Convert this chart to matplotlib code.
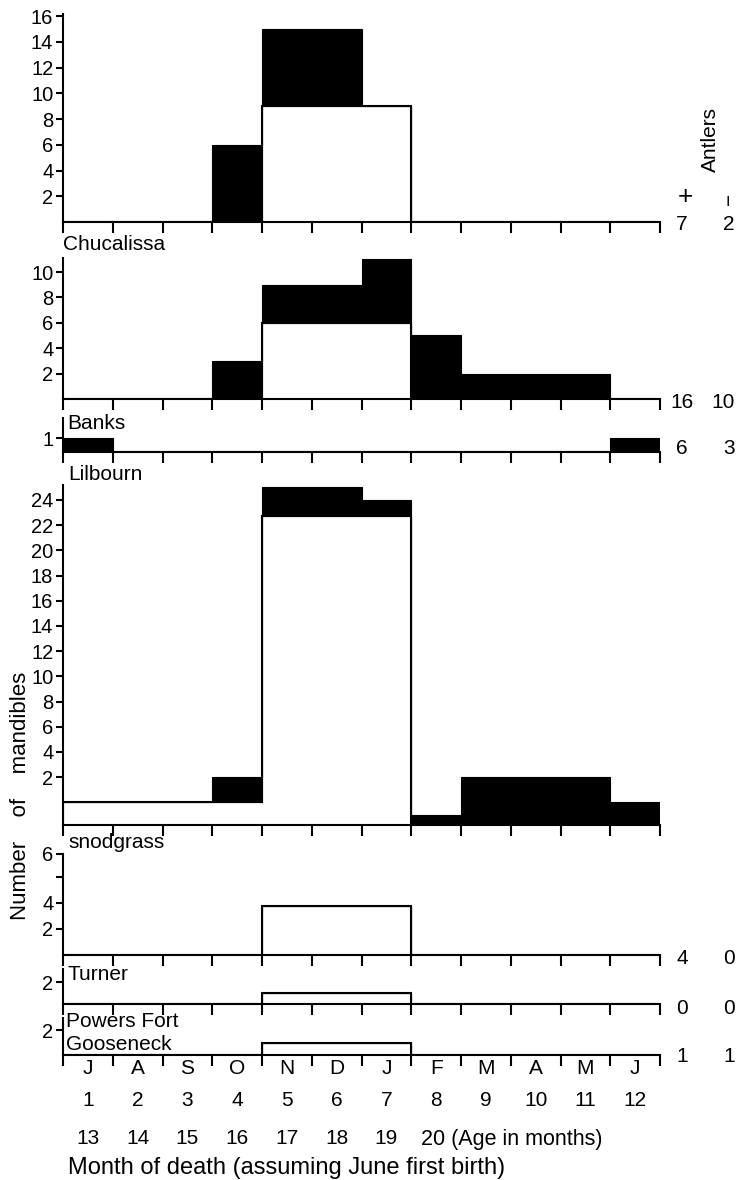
import numpy as np
import matplotlib
matplotlib.use("Agg")
import matplotlib.pyplot as plt

plt.rcParams['font.family'] = ['Liberation Sans', 'DejaVu Sans']

# ---------------- data (bar tops, in each panel's axis units) ----------------
month_letters = ["J", "A", "S", "O", "N", "D", "J", "F", "M", "A", "M", "J"]
month_numbers = ["1", "2", "3", "4", "5", "6", "7", "8", "9", "10", "11", "12"]
age_labels = ["13", "14", "15", "16", "17", "18", "19"]

# open (white) bar tops and solid (black) bar tops, cumulative
top_open = [0, 0, 0, 0, 9, 9, 9, 0, 0, 0, 0, 0]
top_solid = [0, 0, 0, 6, 15, 15, 9, 0, 0, 0, 0, 0]

chuc_open = [0, 0, 0, 0, 6, 6, 6, 0, 0, 0, 0, 0]
chuc_solid = [0, 0, 0, 3, 9, 9, 11, 5, 2, 2, 2, 0]

banks_open = [0, 0, 0, 0, 0, 0, 0, 0, 0, 0, 0, 0]
banks_solid = [1, 0, 0, 0, 0, 0, 0, 0, 0, 0, 0, 1]

lil_floor = -1.8
lil_open = [0, 0, 0, 0, 22.7, 22.7, 22.7, -1.8, -1.8, -1.8, -1.8, -1.8]
lil_solid = [0, 0, 0, 2, 25, 25, 24, -1, 2, 2, 2, 0]

snod_open = [0, 0, 0, 0, 3.8, 3.8, 3.8, 0, 0, 0, 0, 0]
snod_solid = snod_open

turner_open = [0, 0, 0, 0, 1, 1, 1, 0, 0, 0, 0, 0]
turner_solid = turner_open

powers_open = [0, 0, 0, 0, 1, 1, 1, 0, 0, 0, 0, 0]
powers_solid = powers_open

# antler counts (+, -) per panel
antler_plus = ["7", "16", "6", "4", "0", "1"]
antler_minus = ["2", "10", "3", "0", "0", "1"]

site_names = ["Chucalissa", "Banks", "Lilbourn", "snodgrass", "Turner", "Powers Fort\nGooseneck"]

# ---------------- layout ----------------
W, H = 739, 1180
fig = plt.figure(figsize=(W / 100, H / 100), dpi=100)
X0, X1 = 63, 660
FS = 15
FT = 14.5
LW = 1.5
edges = np.arange(13)


def fx(px):
    return px / W


def fy(py):
    return 1 - py / H


def make_ax(baseline_px, ppu, ymin, ymax, yticks, ylabels):
    hpx = (ymax - ymin) * ppu
    ax = fig.add_axes([fx(X0), fy(baseline_px), (X1 - X0) / W, hpx / H])
    ax.set_xlim(0, 12)
    ax.set_ylim(ymin, ymax)
    for s in ("top", "right"):
        ax.spines[s].set_visible(False)
    for s in ("left", "bottom"):
        ax.spines[s].set_linewidth(LW)
    ax.set_xticks(edges)
    ax.set_xticklabels([])
    ax.tick_params(axis="x", length=8, width=LW, direction="out")
    ax.set_yticks(yticks)
    ax.set_yticklabels(ylabels, fontsize=FT)
    ax.tick_params(axis="y", length=5, width=LW, direction="out", pad=2)
    ax.patch.set_alpha(0)
    return ax


def draw(ax, open_top, solid_top, floor):
    ax.stairs(open_top, edges, baseline=floor, fill=True,
              facecolor="white", edgecolor="black", linewidth=LW, zorder=2)
    ax.stairs(solid_top, edges, baseline=np.array(open_top, float), fill=True,
              facecolor="black", edgecolor="black", linewidth=0.8, zorder=3)


panels = [
    # baseline_px, px per unit, ymin, ymax, yticks, ylabels, open, solid
    (222, 12.86, 0, 16.2, list(range(2, 17, 2)), [str(v) for v in range(2, 17, 2)], top_open, top_solid),
    (399, 12.7, 0, 11.1, [2, 4, 6, 8, 10], ["2", "4", "6", "8", "10"], chuc_open, chuc_solid),
    (452, 14, 0, 2.4, [1], ["1"], banks_open, banks_solid),
    (825, 12.6, lil_floor, 25.2, list(range(2, 25, 2)), [str(v) for v in range(2, 25, 2)], lil_open, lil_solid),
    (955, 13, 0, 7.8, [2, 4, 6, 7.8], ["2", "4", "", "6"], snod_open, snod_solid),
    (1004, 11, 0, 3.2, [2], ["2"], turner_open, turner_solid),
    (1055, 12.5, 0, 3.0, [2], ["2"], powers_open, powers_solid),
]

axes = []
for bpx, ppu, ymin, ymax, yt, yl, op, so in panels:
    ax = make_ax(bpx, ppu, ymin, ymax, yt, yl)
    draw(ax, op, so, ymin)
    axes.append(ax)

# site labels
label_pos = [(63, 245), (67, 423), (68, 475), (68, 843), (68, 975), (66, 1033)]
for name, (px, py) in zip(site_names, label_pos):
    fig.text(fx(px), fy(py), name, fontsize=FS, ha="left", va="center",
             linespacing=1.3)

# antler columns
count_rows = [224, 403, 448, 958, 1008, 1056]
for p, m, py in zip(antler_plus, antler_minus, count_rows):
    fig.text(fx(682), fy(py), p, fontsize=FS, ha="center", va="center")
    fig.text(fx(735), fy(py), m, fontsize=FS, ha="right", va="center")
fig.text(fx(685), fy(197), "+", fontsize=19, ha="center", va="center")
fig.text(fx(729), fy(199), "\u2212", fontsize=15, ha="center", va="center", rotation=90)
fig.text(fx(710), fy(140), "Antlers", fontsize=FS, ha="center", va="center", rotation=90)


def xpx(c):
    return X0 + c * (X1 - X0) / 12


centers = edges[:-1] + 0.5
for c, lt in zip(centers, month_letters):
    fig.text(fx(xpx(c)), fy(1068), lt, fontsize=FS, ha="center", va="center")
for c, n in zip(centers, month_numbers):
    fig.text(fx(xpx(c)), fy(1100), n, fontsize=FS, ha="center", va="center")
for c, a in zip(centers[:7], age_labels):
    fig.text(fx(xpx(c)), fy(1139), a, fontsize=FS, ha="center", va="center")
fig.text(fx(421), fy(1139), "20 (Age in months)", fontsize=FS + 0.5, ha="left", va="center")
fig.text(fx(68), fy(1168), "Month of death (assuming June first birth)",
         fontsize=17, ha="left", va="center")

fig.text(fx(21), fy(796), "Number    of    mandibles", fontsize=16,
         ha="center", va="center", rotation=90)

fig.savefig("out.png", dpi=100, facecolor="white")
